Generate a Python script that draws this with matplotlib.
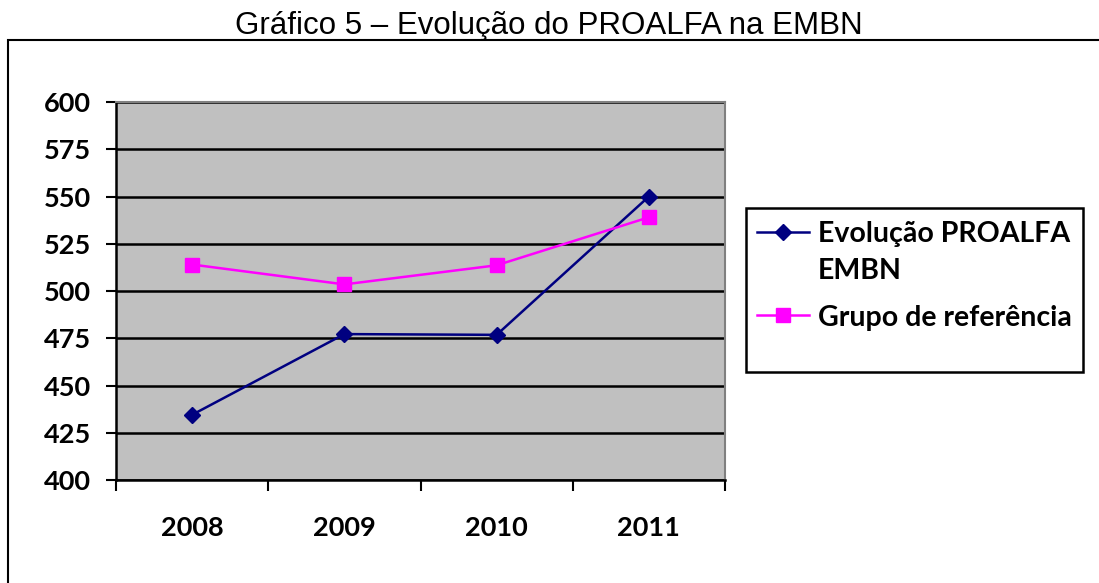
import matplotlib
matplotlib.use("Agg")
import matplotlib.pyplot as plt
from matplotlib.patches import Rectangle
from matplotlib.lines import Line2D

years = ["2008", "2009", "2010", "2011"]
evolucao = [434.5, 477.2, 476.8, 550.0]
grupo = [514.0, 503.5, 513.6, 539.0]
yticks = [400, 425, 450, 475, 500, 525, 550, 575, 600]
title = "Gráfico 5 – Evolução do PROALFA na EMBN"
label_evo = "Evolução PROALFA\nEMBN"
label_grp = "Grupo de referência"

W, H = 1099, 583
fig = plt.figure(figsize=(W / 100, H / 100), dpi=100)
fig.patch.set_facecolor("white")

# outer frame
fig.patches.append(Rectangle((8 / W, -0.02), 1.1, 1 - 40 / H + 0.02, transform=fig.transFigure,
                             fill=False, edgecolor="black", linewidth=1.5))
fig.text(549 / W, 1 - 26 / H, title, ha="center", va="center", fontsize=22.5,
         family="Liberation Sans")

ax = fig.add_axes([116 / W, 1 - 480 / H, (725 - 116) / W, (480 - 102) / H])
ax.set_facecolor("#C0C0C0")
x = list(range(len(years)))
ax.plot(x, evolucao, color="#000080", marker="D", markersize=8, linewidth=1.8, zorder=3)
ax.plot(x, grupo, color="#FF00FF", marker="s", markersize=10, linewidth=1.8, zorder=3)

ax.set_xlim(-0.5, 3.5)
ax.set_ylim(400, 600)
ax.set_yticks(yticks)
ax.yaxis.grid(True, color="black", linewidth=1.8)
ax.set_axisbelow(True)
ax.set_xticks([-0.5, 0.5, 1.5, 2.5, 3.5])
ax.set_xticklabels([])
ax.set_xticks(x, minor=True)
ax.set_xticklabels(years, minor=True)
ax.tick_params(axis="x", which="major", length=8, width=1.5, direction="out")
ax.tick_params(axis="x", which="minor", length=0, pad=26)
ax.tick_params(axis="y", length=7, width=1.5, direction="out", pad=11)
for lab in ax.get_yticklabels() + ax.get_xticklabels(minor=True):
    lab.set_fontsize(19.5)
    lab.set_fontweight("bold")
    lab.set_family("Lato")
for s in ["left", "bottom"]:
    ax.spines[s].set_linewidth(1.8)
    ax.spines[s].set_color("black")
for s in ["top", "right"]:
    ax.spines[s].set_linewidth(1.5)
    ax.spines[s].set_color("#808080")

# legend (drawn by hand so the first key aligns with the first label line)
fig.patches.append(Rectangle((746 / W, 1 - 372 / H), (1083 - 746) / W, (372 - 208) / H,
                             transform=fig.transFigure, fill=False, edgecolor="black", linewidth=1.8))
legend_items = [(label_evo, "#000080", "D", 8, 232, 252.5),
                (label_grp, "#FF00FF", "s", 10, 315, 318)]
for text, color, marker, ms, ykey, ytext in legend_items:
    yk = 1 - ykey / H
    fig.add_artist(Line2D([757 / W, 783 / W, 809 / W], [yk, yk, yk], transform=fig.transFigure,
                          color=color, marker=marker, markersize=ms, markevery=[1], linewidth=1.8))
    fig.text(818 / W, 1 - ytext / H, text, ha="left", va="center", fontsize=20.5,
             fontweight="bold", family="Lato", linespacing=1.5)

fig.savefig("out.png", dpi=100)
